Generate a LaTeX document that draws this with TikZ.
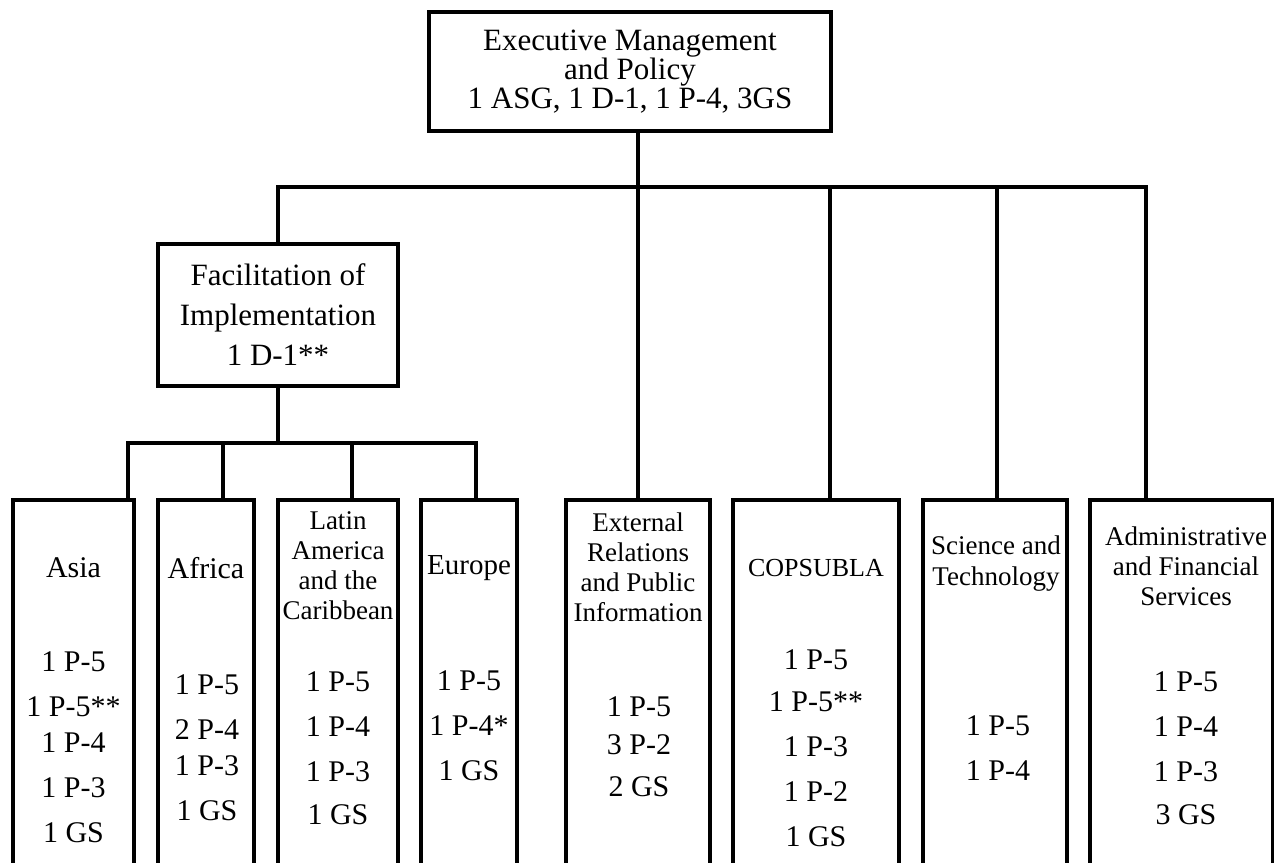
\documentclass[tikz,border=0pt]{standalone}
\usepackage{fontspec}
\setmainfont{Liberation Serif}
\begin{document}
\begin{tikzpicture}[
  x=1pt,
  y=-1pt,
  head/.style={
    draw,
    line width=4pt,
    inner sep=0pt,
    align=center,
    font=\fontsize{31}{29}\selectfont
  },
  unit/.style={
    draw,
    line width=4pt,
    inner sep=0pt,
    minimum height=400pt
  },
  link/.style={line width=4pt},
  title/.style={inner sep=0pt, align=center, font=\fontsize{27}{30}\selectfont},
  grades/.style={inner sep=0pt, align=center, font=\fontsize{30}{45}\selectfont}
]
\useasboundingbox (0,0) rectangle (1274,862);
\clip (0,0) rectangle (1274,862);

% ---------------------------------------------------------------------------
% Head office and facilitation
% ---------------------------------------------------------------------------
\node[head, minimum width=402pt, minimum height=119pt] (exec) at (630,71.5)
  {Executive Management\\and Policy\\1 ASG, 1 D-1, 1 P-4, 3GS};
\node[head, minimum width=240pt, minimum height=142pt,
  font=\fontsize{31}{40}\selectfont] (facil) at (278,315)
  {Facilitation of\\Implementation\\1 D-1**};

% ---------------------------------------------------------------------------
% Regional units
% ---------------------------------------------------------------------------
\node[unit, minimum width=121pt] (asia) at (73.5,700) {};
\node[unit, minimum width=96pt] (africa) at (206,700) {};
\node[unit, minimum width=120pt] (latam) at (338,700) {};
\node[unit, minimum width=96pt] (europe) at (469,700) {};

\node[title, font=\fontsize{30}{30}\selectfont] (asia-t) at (73.5,568) {Asia};
\node[title, font=\fontsize{30}{30}\selectfont] (africa-t) at (206,568) {Africa};
\node[title] (latam-t) at (338,566) {Latin\\America\\and the\\Caribbean};
\node[title, font=\fontsize{29}{30}\selectfont] (europe-t) at (469,568) {Europe};

\node[grades] (asia-n) at (73.5,747)
  {1 P-5\\1 P-5**\\[-9pt]1 P-4\\1 P-3\\1 GS};
\node[grades] (africa-n) at (207,748) {1 P-5\\2 P-4\\[-9pt]1 P-3\\1 GS};
\node[grades] (latam-n) at (338,748) {1 P-5\\1 P-4\\1 P-3\\[-2pt]1 GS};
\node[grades] (europe-n) at (469,726) {1 P-5\\1 P-4*\\1 GS};

% ---------------------------------------------------------------------------
% Other units
% ---------------------------------------------------------------------------
\node[unit, minimum width=144pt] (extrel) at (638,700) {};
\node[unit, minimum width=166pt] (copsubla) at (816,700) {};
\node[unit, minimum width=144pt] (scitech) at (995,700) {};
\node[unit, minimum width=183pt] (admin) at (1181.5,700) {};

\node[title] (extrel-t) at (638,567)
  {External\\Relations\\and Public\\Information};
\node[title, font=\fontsize{26}{30}\selectfont] (copsubla-t) at (816,568) {COPSUBLA};
\node[title, font=\fontsize{27}{31}\selectfont] (scitech-t) at (996,564)
  {Science and\\Technology};
\node[title] (admin-t) at (1186,566) {Administrative\\and Financial\\Services};

\node[grades] (extrel-n) at (639,747) {1 P-5\\[-7pt]3 P-2\\[-3pt]2 GS};
\node[grades] (copsubla-n) at (816,748)
  {1 P-5\\[-3pt]1 P-5**\\1 P-3\\1 P-2\\1 GS};
\node[grades] (scitech-n) at (998,748) {1 P-5\\1 P-4};
\node[grades] (admin-n) at (1186,748) {1 P-5\\1 P-4\\1 P-3\\[-2pt]3 GS};

% ---------------------------------------------------------------------------
% Reporting lines
% ---------------------------------------------------------------------------
\coordinate (mainbus) at (638,187);
\coordinate (subbus) at (278,443);

\draw[link] (exec.south -| extrel.north) -- (extrel.north);
\draw[link] (facil.north) |- (mainbus) -| ([xshift=-35.5pt]admin.north);
\draw[link] ([xshift=14pt]copsubla.north) |- (mainbus);
\draw[link] ([xshift=2pt]scitech.north) |- (mainbus);

\draw[link] (facil.south) -- (subbus);
\draw[link] ([xshift=-8pt]asia.north east) |- (subbus)
  -| ([xshift=7pt]europe.north);
\draw[link] ([xshift=17pt]africa.north) |- (subbus);
\draw[link] ([xshift=14pt]latam.north) |- (subbus);
\end{tikzpicture}
\end{document}
